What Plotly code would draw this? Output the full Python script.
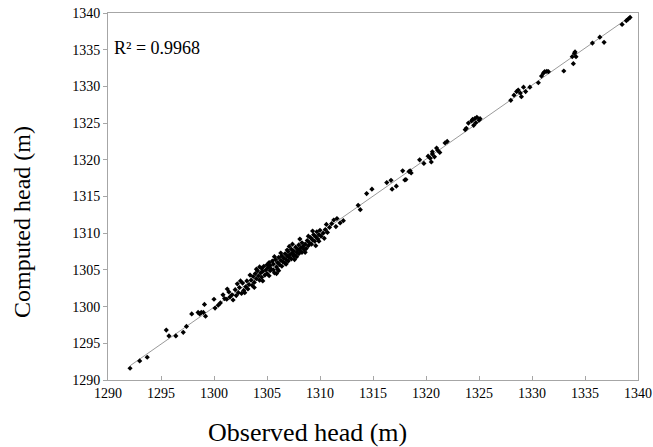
import numpy as np
import plotly.graph_objects as go

observed = [
    1292.08, 1292.99, 1293.7, 1295.5, 1295.75, 1296.4, 1297.1, 1297.4, 1297.9, 1298.5,
    1298.65, 1298.8, 1299.0, 1299.2, 1299.1, 1300.0, 1300.1, 1300.4, 1300.6, 1300.85,
    1301.0, 1301.25,
    1301.2, 1301.4, 1301.5, 1301.7, 1301.8, 1302.0, 1302.1, 1302.3, 1302.4, 1302.6,
    1302.7, 1302.8, 1303.0, 1303.1, 1303.2, 1303.3, 1303.5, 1303.6, 1303.7, 1303.8,
    1303.9, 1304.0, 1304.1, 1304.2, 1304.3, 1304.4, 1304.5, 1304.5, 1304.6, 1304.7,
    1304.8, 1304.9, 1305.0, 1305.0, 1305.1, 1305.2, 1305.3, 1305.3, 1305.4, 1305.5,
    1305.6, 1305.6, 1305.7, 1305.8, 1305.9, 1306.0, 1306.0, 1306.1, 1306.2, 1306.3,
    1306.4, 1306.4, 1306.5, 1306.6, 1306.7, 1306.7, 1306.8, 1306.9, 1307.0, 1307.0,
    1307.1, 1307.2, 1307.3, 1307.3, 1307.4, 1307.5, 1307.5, 1307.6, 1307.7, 1307.8,
    1307.8, 1307.9, 1308.0, 1308.0, 1308.1, 1308.2, 1308.3, 1308.3, 1308.4, 1308.5,
    1308.6, 1308.7, 1308.8, 1308.9, 1309.0, 1309.1, 1309.2, 1309.3, 1309.4, 1309.5,
    1309.6, 1309.7, 1309.8, 1309.9, 1310.0, 1310.1, 1310.3, 1310.5, 1310.7, 1310.9,
    1311.1, 1311.3, 1311.5, 1311.6, 1311.9, 1312.2,
    1302.5, 1302.2, 1303.4, 1304.3, 1305.2, 1306.1, 1306.8, 1307.4, 1308.6, 1309.3,
    1309.9, 1310.4, 1305.7, 1304.6, 1303.8, 1306.3, 1307.1, 1308.1, 1309.6, 1310.6,
    1307.6, 1305.9, 1304.0, 1302.9, 1306.9, 1308.9,
    1313.6, 1313.8, 1314.4, 1314.9, 1316.3, 1316.7, 1316.8, 1317.2, 1317.8, 1318.0,
    1318.1, 1318.4, 1318.5, 1318.6, 1319.4, 1319.8, 1320.2, 1320.4, 1320.5, 1320.6,
    1320.8, 1320.6, 1321.0, 1321.1, 1321.3, 1321.8, 1322.0,
    1323.7, 1323.8, 1324.0, 1324.3, 1324.4, 1324.6, 1324.8, 1325.0, 1325.1, 1324.5,
    1324.7, 1328.0, 1328.3, 1328.55, 1328.7, 1328.9, 1329.0, 1329.2, 1329.4, 1329.8,
    1330.6, 1330.9, 1331.07, 1331.2, 1331.4, 1331.55, 1333.0, 1333.9, 1334.0, 1334.06,
    1334.15, 1333.8, 1335.7, 1336.4, 1336.8, 1338.5, 1338.9, 1339.1, 1339.25,
]

computed = [
    1291.6, 1292.6, 1293.1, 1296.8, 1296.0, 1296.0, 1296.5, 1297.3, 1299.0, 1299.2,
    1299.0, 1299.2, 1299.2, 1298.7, 1300.3, 1301.0, 1299.8, 1300.2, 1300.5, 1301.6,
    1301.1, 1302.4,
    1301.0, 1302.0, 1301.3, 1301.6, 1300.9, 1302.3, 1301.5, 1301.9, 1302.6, 1301.8,
    1303.2, 1302.2, 1302.7, 1303.5, 1302.4, 1303.0, 1303.6, 1302.9, 1304.1, 1303.3,
    1304.5, 1303.8, 1304.9, 1304.2, 1303.6, 1304.6, 1305.2, 1304.0, 1304.8, 1305.5,
    1304.3, 1305.0, 1305.7, 1304.5, 1305.3, 1306.0, 1304.9, 1305.6, 1305.1, 1306.2,
    1305.0, 1305.8, 1304.6, 1306.4, 1305.4, 1306.0, 1305.1, 1306.7, 1305.7, 1306.3,
    1305.5, 1306.9, 1306.1, 1306.6, 1305.9, 1307.2, 1306.4, 1306.9, 1306.2, 1307.5,
    1306.7, 1307.1, 1306.5, 1307.8, 1307.3, 1306.9, 1307.6, 1307.0, 1308.1, 1307.4,
    1306.8, 1307.8, 1307.2, 1308.4, 1307.6, 1308.0, 1307.4, 1308.7, 1308.2, 1307.8,
    1308.5, 1307.9, 1309.0, 1308.3, 1308.7, 1309.4, 1308.5, 1309.1, 1309.8, 1308.9,
    1309.5, 1310.2, 1309.2, 1309.8, 1310.4, 1309.6, 1310.0, 1310.5, 1310.1, 1310.8,
    1311.3, 1311.8, 1310.9, 1312.0, 1311.4, 1311.7,
    1303.5, 1303.1, 1304.3, 1305.4, 1304.2, 1304.9, 1305.8, 1308.5, 1307.4, 1310.3,
    1308.9, 1309.3, 1306.8, 1303.5, 1302.6, 1307.3, 1308.2, 1309.2, 1308.3, 1311.2,
    1306.4, 1304.5, 1305.1, 1301.9, 1307.7, 1309.6,
    1313.8, 1313.2, 1315.4, 1316.0, 1316.9, 1317.2, 1316.0, 1316.4, 1318.5, 1317.25,
    1317.3, 1318.4, 1318.5, 1318.2, 1320.0, 1319.5, 1320.5, 1320.2, 1319.7, 1320.8,
    1320.4, 1321.1, 1321.6, 1321.3, 1321.0, 1322.3, 1322.5,
    1324.1, 1324.3, 1325.0, 1325.3, 1325.5, 1325.6, 1325.8, 1325.4, 1325.6, 1324.7,
    1325.05, 1328.1, 1328.8, 1329.3, 1329.5, 1329.1, 1328.6, 1329.9, 1329.3, 1329.9,
    1330.5, 1331.4, 1331.8, 1332.0, 1332.05, 1332.0, 1332.1, 1333.1, 1334.5, 1334.7,
    1334.05, 1334.05, 1335.9, 1336.7, 1336.0, 1338.45, 1338.95, 1339.2, 1339.4,
]

tick_values = [1290, 1295, 1300, 1305, 1310, 1315, 1320, 1325, 1330, 1335, 1340]
r2_label = "R² = 0.9968"
x_title = "Observed head (m)"
y_title = "Computed head (m)"

obs = np.array(observed)
comp = np.array(computed)
slope, intercept = np.polyfit(obs, comp, 1)
line_x = np.array([obs.min(), obs.max()])
line_y = slope * line_x + intercept

serif = "Liberation Serif"
axis_gray = "#a6a6a6"

fig = go.Figure()
fig.add_trace(go.Scatter(
    x=line_x, y=line_y, mode="lines",
    line=dict(color="#9a9a9a", width=1), hoverinfo="skip", showlegend=False,
))
fig.add_trace(go.Scatter(
    x=observed, y=computed, mode="markers",
    marker=dict(symbol="diamond", size=4, color="black"),
    showlegend=False,
))

fig.update_layout(
    width=653, height=447,
    margin=dict(l=108, r=15, t=13, b=67, autoexpand=False),
    paper_bgcolor="white", plot_bgcolor="white",
    font=dict(family=serif, color="black"),
    annotations=[
        dict(x=0.0, y=0.905, xref="paper", yref="paper", xanchor="left", yanchor="middle",
             xshift=4, text=r2_label, showarrow=False,
             font=dict(family=serif, size=18, color="black")),
        dict(x=0.3755, y=-0.144, xref="paper", yref="paper", xanchor="center", yanchor="middle",
             text=x_title, showarrow=False,
             font=dict(family=serif, size=26, color="black")),
        dict(x=-0.1623, y=0.4305, xref="paper", yref="paper", xanchor="center", yanchor="middle",
             text=y_title, textangle=-90, showarrow=False,
             font=dict(family=serif, size=24, color="black")),
    ],
)
fig.update_xaxes(
    range=[1290, 1340], tickvals=tick_values, showgrid=False, zeroline=False,
    showline=True, linecolor=axis_gray, linewidth=1, mirror=True,
    ticks="inside", ticklen=4, tickcolor=axis_gray, automargin=False,
    ticklabeloverflow="allow",
    tickfont=dict(family=serif, size=14, color="black"),
)
fig.update_yaxes(
    range=[1290, 1340], tickvals=tick_values, showgrid=False, zeroline=False,
    showline=True, linecolor=axis_gray, linewidth=1, mirror=True,
    ticks="outside", ticklen=4, tickcolor=axis_gray, automargin=False,
    ticklabeloverflow="allow",
    tickfont=dict(family=serif, size=14, color="black"),
)

fig.write_html("out.html", config={"displayModeBar": False},
               post_script="document.body.style.margin='0px';")
